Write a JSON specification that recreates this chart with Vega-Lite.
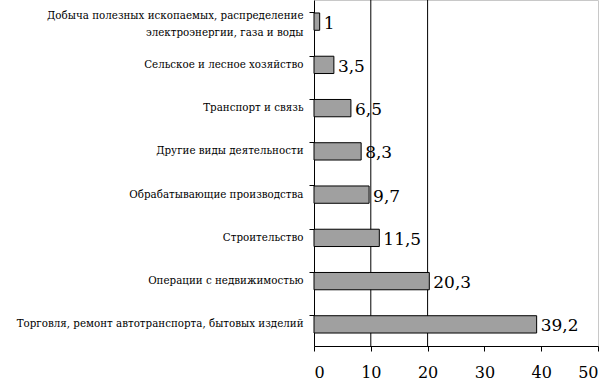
{
  "$schema": "https://vega.github.io/schema/vega-lite/v6.json",
  "width": 284,
  "height": 346,
  "autosize": {"type": "none"},
  "padding": {"left": 314, "top": 0, "right": 16, "bottom": 44},
  "config": {
    "font": "DejaVu Serif",
    "locale": {"number": {"decimal": ",", "thousands": " ", "grouping": [3], "currency": ["", ""]}},
    "view": {"stroke": "#c8c8c8", "strokeWidth": 1},
    "axis": {"domainColor": "black", "tickColor": "black", "labelColor": "black", "grid": false, "labelFont": "DejaVu Serif"}
  },
  "datasets": {
    "bars": [
      {"cat": "Добыча полезных ископаемых, распределение|электроэнергии, газа и воды", "v": 1},
      {"cat": "Сельское и лесное хозяйство", "v": 3.5},
      {"cat": "Транспорт и связь", "v": 6.5},
      {"cat": "Другие виды деятельности", "v": 8.3},
      {"cat": "Обрабатывающие производства", "v": 9.7},
      {"cat": "Строительство", "v": 11.5},
      {"cat": "Операции с недвижимостью", "v": 20.3},
      {"cat": "Торговля, ремонт автотранспорта, бытовых изделий", "v": 39.2}
    ],
    "grid": [{"g": 10}, {"g": 20}]
  },
  "layer": [
    {
      "data": {"name": "grid"},
      "mark": {"type": "rule", "color": "black", "strokeWidth": 1},
      "encoding": {
        "x": {"field": "g", "type": "quantitative", "scale": {"domain": [0, 50]}}
      }
    },
    {
      "data": {"name": "bars"},
      "mark": {"type": "bar", "fill": "#a0a0a0", "stroke": "black", "strokeWidth": 1},
      "encoding": {
        "y": {
          "field": "cat", "type": "nominal", "sort": null,
          "scale": {"paddingInner": 0.6, "paddingOuter": 0.3},
          "axis": {
            "title": null, "bandPosition": 0,
            "labelExpr": "split(datum.value, '|')",
            "labelOffset": {"condition": {"test": "indexof(datum.value, '|') >= 0", "value": -6}, "value": 0},
            "labelFontSize": 10.3, "labelPadding": 6, "tickSize": 5, "labelLimit": 400,
            "labelLineHeight": 17
          }
        },
        "x": {
          "field": "v", "type": "quantitative",
          "scale": {"domain": [0, 50], "nice": false},
          "axis": {"title": null, "values": [0, 10, 20, 30, 40, 50], "labelFontSize": 16, "tickSize": 5, "labelPadding": 13, "format": "d"}
        }
      }
    },
    {
      "data": {"name": "bars"},
      "mark": {"type": "text", "align": "left", "baseline": "middle", "dx": 4, "dy": 2, "fontSize": 17, "color": "black", "font": "DejaVu Serif"},
      "encoding": {
        "y": {"field": "cat", "type": "nominal", "sort": null},
        "x": {"field": "v", "type": "quantitative"},
        "text": {"field": "v", "type": "quantitative", "format": ".1~f"}
      }
    }
  ]
}
